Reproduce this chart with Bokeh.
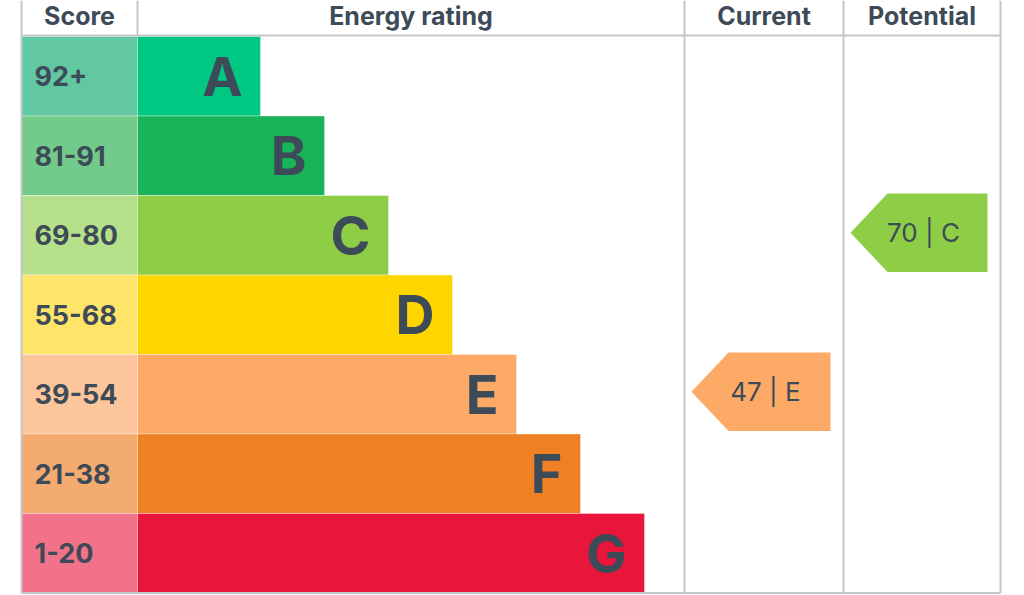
from bokeh.plotting import figure
from bokeh.models import Range1d, ColumnDataSource
from bokeh.core.properties import value
from bokeh.embed import file_html
from bokeh.resources import INLINE

# data
bands = ["A", "B", "C", "D", "E", "F", "G"]
score_ranges = ["92+", "81-91", "69-80", "55-68", "39-54", "21-38", "1-20"]
band_min = [92, 81, 69, 55, 39, 21, 1]
headers = ["Score", "Energy rating", "Current", "Potential"]
current = 47
potential = 70

bar_colors = ["#00c781", "#19b459", "#8dce46", "#ffd500", "#fcaa65", "#ef8023", "#e9153b"]
score_colors = ["#62c8a2", "#72cb8b", "#b7e08a", "#ffe46a", "#fdc59b", "#f4ab70", "#f27389"]
text_color = "#3d4a58"
grid_color = "#c3c7c9"
font = value("Inter")

# layout (x and y in screen-like units)
col_edges = [21, 137, 684, 843, 1000]
head_y = 15
rows_top = 36
row_h = 79.5
bar_base = 196
bar_step = 64

tops = [rows_top + i * row_h for i in range(len(bands))]
bottoms = [t + row_h for t in tops]
mids = [(t + b) / 2 for t, b in zip(tops, bottoms)]
bar_right = [bar_base + bar_step * (i + 1) for i in range(len(bands))]
table_bottom = bottoms[-1]

p = figure(width=1024, height=595, output_backend="svg", toolbar_location=None,
           x_range=Range1d(0, 1024), y_range=Range1d(595, 0), min_border=0)
p.axis.visible = False
p.grid.visible = False
p.outline_line_color = None

src = ColumnDataSource(dict(top=tops, bottom=bottoms, mid=mids, right=bar_right,
                            band=bands, score=score_ranges,
                            bc=bar_colors, sc=score_colors))

# score cells and rating bars
p.quad(left=col_edges[0], right=col_edges[1], top="top", bottom="bottom", source=src,
       fill_color="sc", line_color="white", line_alpha=0.35, line_width=1)
p.quad(left=col_edges[1], right="right", top="top", bottom="bottom", source=src,
       fill_color="bc", line_color="white", line_alpha=0.35, line_width=1)

p.text(x=col_edges[0] + 13, y="mid", text="score", source=src, text_font=font,
       text_font_size="27px", text_font_style="bold", text_color=text_color,
       text_align="left", text_baseline="middle")
p.text(x="right", y="mid", text="band", source=src, text_font=font, x_offset=-18,
       text_font_size="54px", text_font_style="bold", text_color=text_color,
       text_align="right", text_baseline="middle")

# grid lines
xs = [[col_edges[0], col_edges[0]], [col_edges[1], col_edges[1]],
      [col_edges[2], col_edges[2]], [col_edges[3], col_edges[3]],
      [col_edges[4], col_edges[4]],
      [col_edges[0], col_edges[4]], [col_edges[0], col_edges[4]]]
ys = [[0, table_bottom], [0, rows_top], [0, table_bottom], [0, table_bottom],
      [0, table_bottom], [rows_top - 1, rows_top - 1], [table_bottom, table_bottom]]
p.multi_line(xs=xs, ys=ys, line_color=grid_color, line_width=2)

# headers
head_x = [(col_edges[i] + col_edges[i + 1]) / 2 for i in range(4)]
p.text(x=head_x, y=[head_y] * 4, text=headers, text_font=font, text_font_size="25px",
       text_font_style="bold", text_color=text_color, text_align="center",
       text_baseline="middle")


def band_of(v):
    for i, m in enumerate(band_min):
        if v >= m:
            return i
    return len(band_min) - 1


# current / potential arrows
arr_xs, arr_ys, arr_c, lx, ly, lt = [], [], [], [], [], []
for col, val in [(2, current), (3, potential)]:
    i = band_of(val)
    cl, cr = col_edges[col], col_edges[col + 1]
    tip, notch, right = cl + 7, cl + 44, cr - 13
    t, b = tops[i] - 2, bottoms[i] - 3
    arr_xs.append([notch, right, right, notch, tip])
    arr_ys.append([t, t, b, b, (t + b) / 2])
    arr_c.append(bar_colors[i])
    lx.append((notch + right) / 2 - 14)
    ly.append((t + b) / 2)
    lt.append(f"{val} | {bands[i]}")

p.patches(xs=arr_xs, ys=arr_ys, fill_color=arr_c, line_color=None)
p.text(x=lx, y=ly, text=lt, text_font=font, text_font_size="26px",
       text_color=text_color, text_align="center", text_baseline="middle")

open("out.html", "w").write(file_html(p, INLINE))
